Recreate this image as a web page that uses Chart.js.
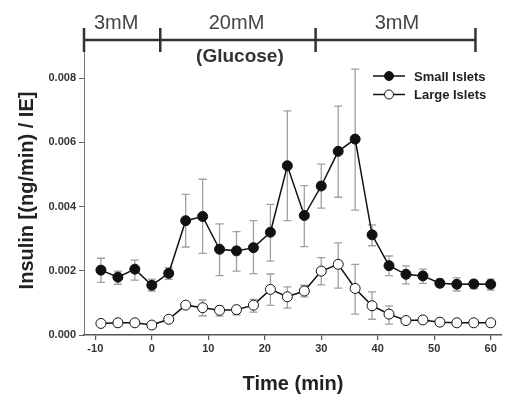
<!DOCTYPE html>
<html lang="en">
<head>
    <meta charset="UTF-8">
    <title>Insulin secretion - small vs large islets</title>
    <script src="https://cdn.jsdelivr.net/npm/chart.js"></script>
    <style>
        body, html {
            margin: 0;
            padding: 0;
            background: #fff;
            overflow: hidden;
        }
        canvas {
            display: block;
        }
    </style>
</head>
<body>
    <canvas id="insulinChart" width="517" height="408" style="width:517px;height:408px"></canvas>

    <script>
        // time points (min)
        const times = [-9, -6, -3, 0, 3, 6, 9, 12, 15, 18, 21, 24, 27, 30, 33, 36, 39, 42, 45, 48, 51, 54, 57, 60];

        // small islets: mean, upper and lower end of error bar
        const smallMean = [0.00202, 0.00180, 0.00205, 0.00155, 0.00192, 0.00356, 0.00369, 0.00267, 0.00262, 0.00272,
                           0.00320, 0.00527, 0.00372, 0.00464, 0.00572, 0.00610, 0.00312, 0.00216, 0.00189, 0.00184,
                           0.00161, 0.00158, 0.00159, 0.00158];
        const smallHigh = [0.00239, 0.00199, 0.00233, 0.00174, 0.00210, 0.00438, 0.00485, 0.00346, 0.00322, 0.00356,
                           0.00407, 0.00698, 0.00465, 0.00532, 0.00713, 0.00828, 0.00343, 0.00246, 0.00215, 0.00205,
                           0.00174, 0.00178, 0.00171, 0.00174];
        const smallLow  = [0.00164, 0.00158, 0.00171, 0.00137, 0.00173, 0.00274, 0.00254, 0.00185, 0.00199, 0.00191,
                           0.00230, 0.00356, 0.00275, 0.00395, 0.00429, 0.00389, 0.00278, 0.00185, 0.00159, 0.00161,
                           0.00149, 0.00137, 0.00144, 0.00140];

        // large islets
        const largeMean = [0.00036, 0.00038, 0.00038, 0.00031, 0.00049, 0.00093, 0.00085, 0.00077, 0.00079, 0.00093,
                           0.00142, 0.00119, 0.00137, 0.00199, 0.00220, 0.00145, 0.00091, 0.00065, 0.00045, 0.00047,
                           0.00040, 0.00038, 0.00038, 0.00038];
        const largeHigh = [0.00038, 0.00040, 0.00040, 0.00033, 0.00052, 0.00098, 0.00109, 0.00091, 0.00088, 0.00111,
                           0.00190, 0.00150, 0.00155, 0.00241, 0.00287, 0.00220, 0.00134, 0.00091, 0.00049, 0.00057,
                           0.00043, 0.00040, 0.00040, 0.00040];
        const largeLow  = [0.00034, 0.00036, 0.00036, 0.00029, 0.00046, 0.00088, 0.00060, 0.00059, 0.00063, 0.00071,
                           0.00092, 0.00084, 0.00119, 0.00156, 0.00146, 0.00065, 0.00049, 0.00034, 0.00041, 0.00036,
                           0.00037, 0.00036, 0.00036, 0.00036];

        const xTicks = [-10, 0, 10, 20, 30, 40, 50, 60];
        const yTicks = [0, 0.002, 0.004, 0.006, 0.008];

        // glucose protocol bracket above the plot (in minutes)
        const phaseEdges = [-12, 1.5, 29, 57.3];
        const phaseLabels = ['3mM', '20mM', '3mM'];
        const phaseLabelX = [-6.3, 15, 43.4];

        const seriesNames = ['Small Islets', 'Large Islets'];

        const FONT = '"Liberation Sans", Arial, sans-serif';

        const errorBars = {
            id: 'errorBars',
            beforeDatasetsDraw(chart) {
                const ctx = chart.ctx;
                const x = chart.scales.x, y = chart.scales.y;
                const sets = [[smallHigh, smallLow], [largeHigh, largeLow]];
                ctx.save();
                ctx.strokeStyle = '#a0a0a0';
                ctx.lineWidth = 1.3;
                sets.forEach(([hi, lo]) => {
                    times.forEach((t, i) => {
                        const px = x.getPixelForValue(t);
                        const top = y.getPixelForValue(hi[i]);
                        const bot = y.getPixelForValue(lo[i]);
                        ctx.beginPath();
                        ctx.moveTo(px, top); ctx.lineTo(px, bot);
                        ctx.moveTo(px - 4, top); ctx.lineTo(px + 4, top);
                        ctx.moveTo(px - 4, bot); ctx.lineTo(px + 4, bot);
                        ctx.stroke();
                    });
                });
                ctx.restore();
            }
        };

        const annotations = {
            id: 'annotations',
            afterDraw(chart) {
                const ctx = chart.ctx;
                const x = chart.scales.x;
                ctx.save();
                // bracket
                ctx.strokeStyle = '#333';
                ctx.lineWidth = 2.5;
                const bY = 40;
                ctx.beginPath();
                ctx.moveTo(x.getPixelForValue(phaseEdges[0]), bY);
                ctx.lineTo(x.getPixelForValue(phaseEdges[phaseEdges.length - 1]), bY);
                phaseEdges.forEach(e => {
                    const px = x.getPixelForValue(e);
                    ctx.moveTo(px, bY - 12);
                    ctx.lineTo(px, bY + 12);
                });
                ctx.stroke();

                ctx.fillStyle = '#444';
                ctx.textAlign = 'center';
                ctx.textBaseline = 'middle';
                ctx.font = '20px ' + FONT;
                phaseLabels.forEach((l, i) => {
                    ctx.fillText(l, x.getPixelForValue(phaseLabelX[i]), 23);
                });
                ctx.fillStyle = '#333';
                ctx.font = 'bold 19px ' + FONT;
                ctx.fillText('(Glucose)', x.getPixelForValue(15.6), 57);

                // legend
                const lx = 373, rows = [76, 94.5];
                ctx.font = 'bold 13px ' + FONT;
                ctx.textAlign = 'left';
                rows.forEach((ry, i) => {
                    ctx.strokeStyle = '#111';
                    ctx.lineWidth = 1.5;
                    ctx.beginPath();
                    ctx.moveTo(lx, ry); ctx.lineTo(lx + 32, ry);
                    ctx.stroke();
                    ctx.beginPath();
                    ctx.arc(lx + 16, ry, 4.5, 0, Math.PI * 2);
                    ctx.fillStyle = i === 0 ? '#111' : '#fff';
                    ctx.fill();
                    ctx.lineWidth = 1;
                    ctx.stroke();
                    ctx.fillStyle = '#222';
                    ctx.fillText(seriesNames[i], lx + 41, ry + 1);
                });
                ctx.restore();
            }
        };

        const toPoints = vals => times.map((t, i) => ({ x: t, y: vals[i] }));

        new Chart(document.getElementById('insulinChart'), {
            type: 'line',
            data: {
                datasets: [{
                    label: seriesNames[0],
                    data: toPoints(smallMean),
                    borderColor: '#111',
                    borderWidth: 1.5,
                    pointRadius: 5,
                    pointBackgroundColor: '#111',
                    pointBorderColor: '#111',
                    pointBorderWidth: 1,
                    tension: 0
                }, {
                    label: seriesNames[1],
                    data: toPoints(largeMean),
                    borderColor: '#111',
                    borderWidth: 1.5,
                    pointRadius: 5,
                    pointBackgroundColor: '#fff',
                    pointBorderColor: '#111',
                    pointBorderWidth: 1,
                    tension: 0
                }]
            },
            options: {
                responsive: false,
                animation: false,
                layout: { padding: { top: 46, right: 15, left: 0, bottom: 0 } },
                plugins: {
                    legend: { display: false },
                    tooltip: { enabled: false }
                },
                scales: {
                    x: {
                        type: 'linear',
                        min: -12,
                        max: 62,
                        afterBuildTicks: s => { s.ticks = xTicks.map(v => ({ value: v })); },
                        afterFit: s => { s.height = 73; },
                        grid: { display: true, drawOnChartArea: false, drawTicks: true, tickLength: 5, color: '#555', lineWidth: 1.2 },
                        border: { display: true, color: '#555', width: 1.5 },
                        ticks: { color: '#333', padding: 2, font: { family: FONT, size: 11, weight: 'bold' } },
                        title: {
                            display: true,
                            text: 'Time (min)',
                            color: '#222',
                            padding: { top: 0, bottom: 12 },
                            font: { family: FONT, size: 20, weight: 'bold' }
                        }
                    },
                    y: {
                        min: 0,
                        max: 0.009,
                        afterBuildTicks: s => { s.ticks = yTicks.map(v => ({ value: v })); },
                        afterFit: s => { s.width = 84; },
                        grid: { display: true, drawOnChartArea: false, drawTicks: true, tickLength: 5, color: '#666', lineWidth: 1 },
                        border: { display: true, color: '#777', width: 1 },
                        ticks: {
                            color: '#333',
                            padding: 3,
                            font: { family: FONT, size: 11, weight: 'bold' },
                            callback: v => v.toFixed(3)
                        },
                        title: {
                            display: true,
                            text: 'Insulin [(ng/min) / IE]',
                            color: '#222',
                            padding: { top: 15, bottom: 0 },
                            font: { family: FONT, size: 20, weight: 'bold' }
                        }
                    }
                }
            },
            plugins: [errorBars, annotations]
        });
    </script>
</body>
</html>
